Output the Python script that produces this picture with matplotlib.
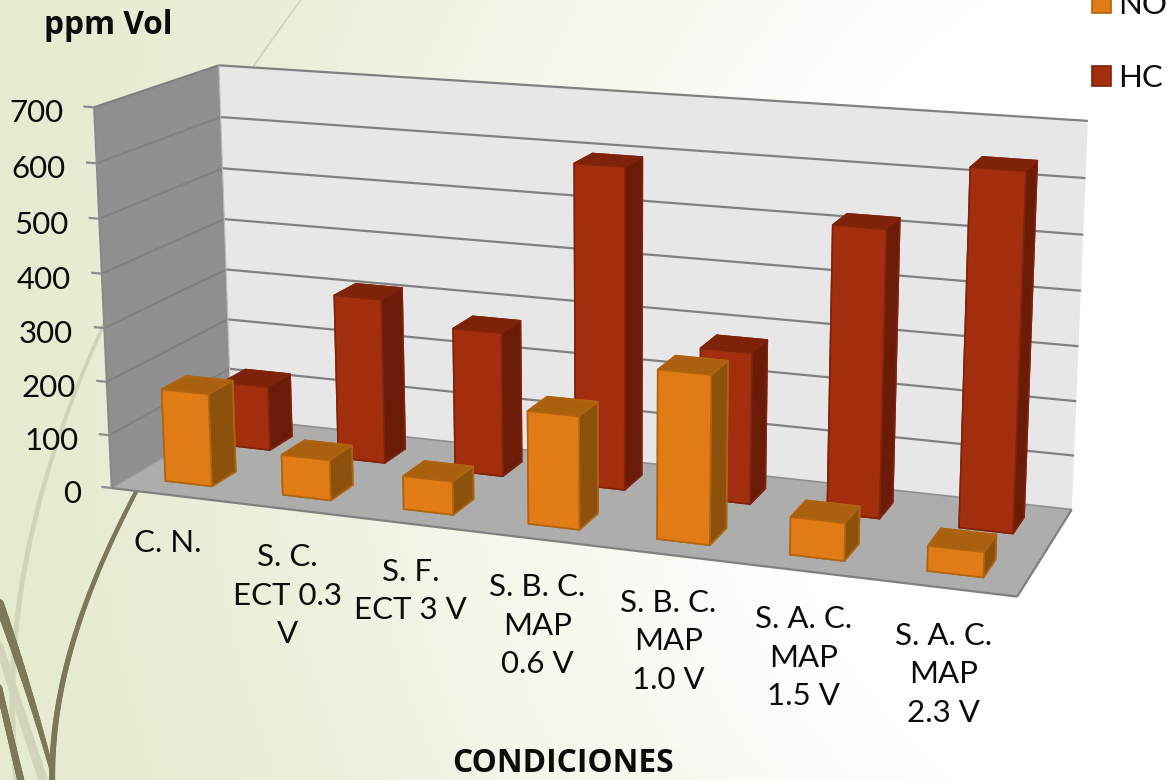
import numpy as np
import matplotlib
matplotlib.use("Agg")
import matplotlib.pyplot as plt
from matplotlib.collections import LineCollection
from matplotlib.patches import Patch
from mpl_toolkits.mplot3d.art3d import Poly3DCollection, Line3DCollection

plt.rcParams['font.family'] = ['Lato', 'DejaVu Sans']

# Chart data
categories = ["C. N.", "S. C.\nECT 0.3\nV", "S. F.\nECT 3 V", "S. B. C.\nMAP\n0.6 V",
              "S. B. C.\nMAP\n1.0 V", "S. A. C.\nMAP\n1.5 V", "S. A. C.\nMAP\n2.3 V"]
no_values = [174, 75, 61, 205, 302, 67, 44]
hc_values = [124, 314, 272, 596, 279, 521, 639]
z_ticks = [0, 100, 200, 300, 400, 500, 600, 700]
series_names = ["NO", "HC"]
y_label = "ppm Vol"
x_label = "CONDICIONES"

W, H = 1172, 780
fig = plt.figure(figsize=(W / 100, H / 100), dpi=100)

# Backdrop: soft radial wash with grass-blade strokes
bg = fig.add_axes([0, 0, 1, 1], zorder=0)
bg.set_xlim(0, W)
bg.set_ylim(H, 0)
bg.axis("off")
yy, xx = np.mgrid[0:H, 0:W]
rr = np.hypot(xx - 1250, yy - 400)
stops_r = [450, 860, 1000, 1270]
stops_c = np.array([[255, 255, 255], [242, 245, 230], [234, 240, 218], [228, 235, 207]]) / 255
wash = np.dstack([np.interp(rr, stops_r, stops_c[:, k]) for k in range(3)])
bg.imshow(wash, extent=(0, W, H, 0), aspect="auto", zorder=0, interpolation="bilinear")


def blade(pts, w0, w1, color, z=1):
    pts = np.asarray(pts, float)
    t = np.r_[0, np.cumsum(np.hypot(*np.diff(pts, axis=0).T))]
    t = t / t[-1]
    tt = np.linspace(0, 1, 120)
    deg = min(3, len(pts) - 1)
    xs = np.polyval(np.polyfit(t, pts[:, 0], deg), tt)
    ys = np.polyval(np.polyfit(t, pts[:, 1], deg), tt)
    segs = np.stack([np.c_[xs[:-1], ys[:-1]], np.c_[xs[1:], ys[1:]]], axis=1)
    bg.add_collection(LineCollection(segs, linewidths=np.linspace(w0, w1, 119) * 0.72,
                                     colors=color, zorder=z, capstyle="round"))


pale = "#d0d5b9"
olive = "#7d7859"
blade([(303, 0), (250, 66), (105, 330), (50, 457), (17, 630), (10, 713), (18, 780)], 1.5, 6, pale)
blade([(-6, 630), (20, 710), (45, 785)], 8, 9, pale)
blade([(140, 484), (97, 577), (73, 637), (58, 713), (52, 785)], 4, 6, olive, 2)
blade([(-6, 590), (25, 680), (53, 775)], 10, 4, olive, 2)
blade([(-6, 665), (10, 735), (22, 785)], 6, 7, olive, 2)

# 3D chart axes spanning the full figure width
ax = fig.add_axes([0, (H - W) / 2 / H, 1, W / H], projection="3d", computed_zorder=False, zorder=1)
ax.set_axis_off()
ax.patch.set_visible(False)

# Camera: homogeneous map from (category, depth, value) to figure pixels
camera = np.array([[114.031876, 138.98582, -0.029687, 111.722376],
                   [6.518222, -35.089111, -0.549095, 488.064275],
                   [-0.015062, 0.084081, -4.8e-05, 1.0]])


def to_pixels(x, y, z):
    h = camera @ np.array([x, y, z, 1.0])
    return h[0] / h[2], h[1] / h[2]


ax.apply_aspect()
to_view = ax.transData.inverted().get_matrix()
display_h = np.vstack([camera[0], H * camera[2] - camera[1], camera[2]])
view_h = to_view @ display_h
# Depth row: farther back, further left and lower faces are painted first
depth_row = [-0.1, 1, -0.1 / 700, 0.01]
proj = np.vstack([view_h[0], view_h[1], depth_row, view_h[2]])
ax.get_proj = lambda: proj

xmax, zmax = 7, z_ticks[-1]


def wall(verts, face, z):
    ax.add_collection3d(Poly3DCollection([verts], facecolors=face, edgecolors="none", zorder=z))


def rule(segments, color, width, z):
    ax.add_collection3d(Line3DCollection(segments, colors=color, linewidths=width, zorder=z))


wall([(0, 1, 0), (xmax, 1, 0), (xmax, 1, zmax), (0, 1, zmax)], "#e7e7e7", 1)
wall([(0, 0, 0), (0, 1, 0), (0, 1, zmax), (0, 0, zmax)], "#8f8f8f", 2)
wall([(0, 0, 0), (xmax, 0, 0), (xmax, 1, 0), (0, 1, 0)], "#adadad", 3)

line_color = "#808080"
grid_segments = []
for v in z_ticks[1:]:
    grid_segments.append([(0, 0, v), (0, 1, v)])
    grid_segments.append([(0, 1, v), (xmax, 1, v)])
rule(grid_segments, line_color, 1.6, 4)
rule([[(-0.09, 0, v), (0, 0, v)] for v in z_ticks], "#8c8c8c", 1.6, 4)
rule([[(0, 0, 0), (0, 0, zmax)]], "#8a8a8a", 1.5, 4)
rule([[(0, 1, 0), (0, 1, zmax)]], "#bdbdbd", 0.8, 4)
rule([[(0, 0, 0), (0, 1, 0)]], "#9a9a9a", 1.0, 4)
rule([[(0, 1, 0), (xmax, 1, 0)]], "#8f8f8f", 1.2, 4)
rule([[(0, 0, 0), (xmax, 0, 0)], [(xmax, 0, 0), (xmax, 1, 0)]], line_color, 1.6, 5)


def bars(values, y0, faces, edge, z):
    # cuboid faces in bar3d order: bottom, top, front, back, left, right
    for i, v in enumerate(values):
        ax.bar3d(i + 0.3, y0, 0, 0.4, 0.2, v, color=faces, edgecolor=edge, linewidth=1.2,
                 shade=False, zorder=z + i * 0.01)


no_front, no_top, no_side, no_edge = "#e07b16", "#a9600f", "#8c520d", "#b0640f"
hc_front, hc_top, hc_side, hc_edge = "#a32e0e", "#7f220a", "#6b1c08", "#80230a"
bars(hc_values, 0.65, [hc_side, hc_top, hc_front, hc_side, hc_side, hc_side], hc_edge, 6)
bars(no_values, 0.15, [no_side, no_top, no_front, no_side, no_side, no_side], no_edge, 7)

ax.set_xlim(0, 7)
ax.set_ylim(0, 1)
ax.set_zlim(0, 700)

text_color = "#0c0c0c"
for v in z_ticks:
    u, w = to_pixels(0, 0, v)
    fig.text((u - 31) / W, 1 - (w + 6) / H, str(v), ha="right", va="center", fontsize=22.5,
             color=text_color, zorder=5)

for i, label in enumerate(categories):
    u, w = to_pixels(i + 0.5, 0, 0)
    fig.text((u - 2) / W, 1 - (w + 34) / H, label, ha="center", va="top", fontsize=22.5,
             color=text_color, linespacing=1.45, multialignment="center", zorder=5)

# Axis titles and legend
title_font = dict(family=["Open Sans", "DejaVu Sans"], fontsize=22.8, fontweight="bold", color=text_color, zorder=5)
fig.text(108 / W, 1 - 26 / H, y_label, ha="center", va="center", **title_font)
fig.text(563 / W, 1 - 764 / H, x_label, ha="center", va="center", **title_font)
handles = [Patch(facecolor=no_front, edgecolor=no_edge, linewidth=1.2),
           Patch(facecolor=hc_front, edgecolor=hc_edge, linewidth=1.2)]
leg = fig.legend(handles, series_names, loc="upper left", bbox_to_anchor=(1092 / W, 1 + 9 / H),
                 frameon=False, handlelength=0.6, handleheight=0.6, handletextpad=0.25,
                 labelspacing=1.45, labelcolor=text_color, borderpad=0, borderaxespad=0,
                 prop=dict(size=22.5))
leg.set_zorder(5)

fig.savefig("out.png", dpi=100)
